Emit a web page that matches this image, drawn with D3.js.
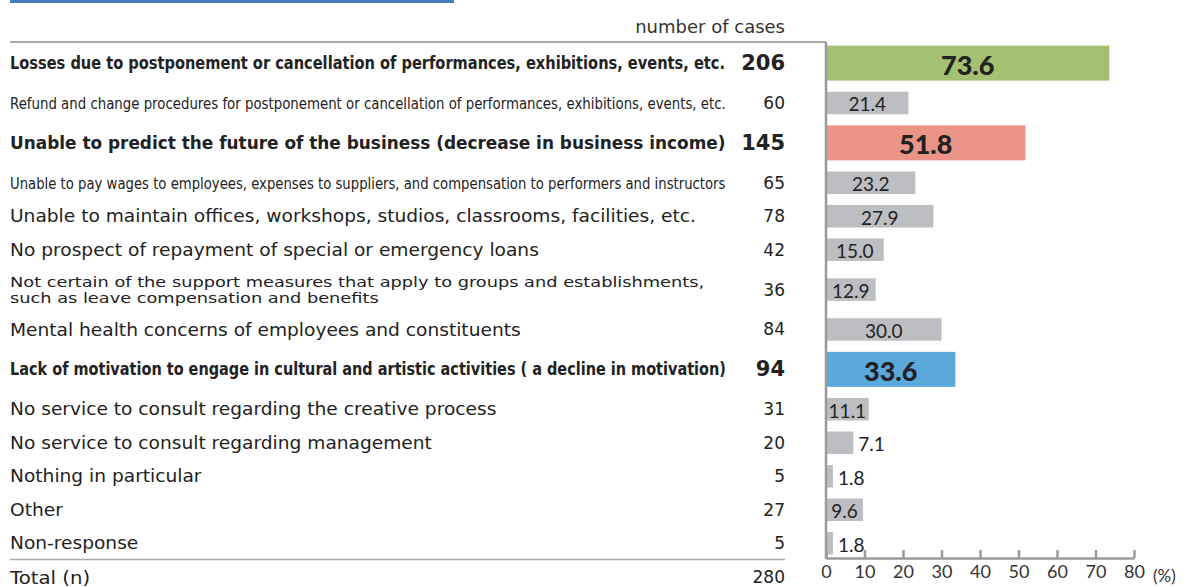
<!DOCTYPE html>
<html>
<head>
<meta charset="utf-8">
<script src="https://cdn.jsdelivr.net/npm/d3@7"></script>
<style>
  html, body { margin: 0; padding: 0; background: #fff; }
  svg { display: block; }
  text { fill: #222; }
</style>
</head>
<body>
<svg id="chart" width="1191" height="587"></svg>
<script>
const categories = [
  "Losses due to postponement or cancellation of performances, exhibitions, events, etc.",
  "Refund and change procedures for postponement or cancellation of performances, exhibitions, events, etc.",
  "Unable to predict the future of the business (decrease in business income)",
  "Unable to pay wages to employees, expenses to suppliers, and compensation to performers and instructors",
  "Unable to maintain offices, workshops, studios, classrooms, facilities, etc.",
  "No prospect of repayment of special or emergency loans",
  "Not certain of the support measures that apply to groups and establishments,\nsuch as leave compensation and benefits",
  "Mental health concerns of employees and constituents",
  "Lack of motivation to engage in cultural and artistic activities ( a decline in motivation)",
  "No service to consult regarding the creative process",
  "No service to consult regarding management",
  "Nothing in particular",
  "Other",
  "Non-response"
];
const counts = [206, 60, 145, 65, 78, 42, 36, 84, 94, 31, 20, 5, 27, 5];
const percents = [73.6, 21.4, 51.8, 23.2, 27.9, 15.0, 12.9, 30.0, 33.6, 11.1, 7.1, 1.8, 9.6, 1.8];
const highlightIdx = [0, 2, 8];
const xTicks = [0, 10, 20, 30, 40, 50, 60, 70, 80];
const totalLabel = "Total (n)";
const totalN = 280;
const countHeader = "number of cases";
const unitLabel = "(%)";

// ---- styles ----
const hlColors = {0: "#a3c170", 2: "#ea9587", 8: "#5aa8dc"};
const grayBar = "#bdbec2";
const FONT = "'DejaVu Sans', Verdana, sans-serif";
const NUMFONT = "Lato, 'DejaVu Sans', sans-serif";
const WIDE = 1.095;      // horizontal stretch to mimic Verdana-like width
const maxLabelW = 716;

const svg = d3.select("#chart");

// top decorative blue rule
svg.append("rect").attr("x", 10).attr("y", 0).attr("width", 444).attr("height", 3).attr("fill", "#4a7cc4");

// rows layout: weights
const isHl = i => highlightIdx.includes(i);
const weights = categories.map((c, i) => (isHl(i) || c.includes("\n")) ? 1.38 : 1);
const cum = [0];
weights.forEach((w, i) => cum.push(cum[i] + w));
const yPos = d3.scaleLinear().domain([0, cum[cum.length - 1]]).range([40, 560]);
const rowCenter = i => yPos(cum[i] + weights[i] / 2);

const x = d3.scaleLinear().domain([0, 80]).range([826, 1134]);

function label(x0, y0, str, size, weight) {
  const g = svg.append("g").attr("transform", `translate(${x0},${y0})`);
  const t = g.append("text").attr("x", 0).attr("y", 0).attr("dominant-baseline", "central")
    .style("font-family", FONT).style("font-size", size + "px").style("font-weight", weight).text(str);
  return {g, t};
}

// header
svg.append("text").attr("x", 785).attr("y", 26).attr("text-anchor", "end").attr("dominant-baseline", "central")
  .style("font-family", FONT).style("font-size", "18px").style("fill", "#333").text(countHeader);

// top & bottom table rules
svg.append("line").attr("x1", 10).attr("x2", 826).attr("y1", 42).attr("y2", 42)
  .attr("stroke", "#aaa").attr("stroke-width", 2);
svg.append("line").attr("x1", 10).attr("x2", 785).attr("y1", 559.5).attr("y2", 559.5)
  .attr("stroke", "#aaa").attr("stroke-width", 1.5);

// labels
categories.forEach((c, i) => {
  const cy = rowCenter(i);
  const hl = isHl(i);
  const lines = c.split("\n");
  if (lines.length > 1) {
    const gap = 16;
    lines.forEach((ln, k) => {
      const yy = cy + (k - (lines.length - 1) / 2) * gap;
      const {g} = label(10, yy, ln, 14.5, "normal");
      g.attr("transform", `translate(10,${yy}) scale(1.225,1)`);
    });
  } else {
    let {g, t} = label(10, cy, c, hl ? 18 : 17, hl ? "bold" : "normal");
    let w = t.node().getComputedTextLength();
    let k = hl ? 1 : WIDE;
    if (w * k > maxLabelW) {
      if (!hl) { t.style("font-size", "16px"); w = t.node().getComputedTextLength(); }
      k = maxLabelW / w;
    }
    g.attr("transform", `translate(10,${cy}) scale(${k},1)`);
  }
  // count
  svg.append("text").attr("x", 785).attr("y", cy).attr("text-anchor", "end")
    .attr("dominant-baseline", "central")
    .style("font-family", FONT).style("font-size", hl ? "21px" : "17px")
    .style("font-weight", hl ? "bold" : "normal").text(counts[i]);
});

// total row
{
  const {g} = label(10, 577, totalLabel, 18, "normal");
  g.attr("transform", `translate(10,577) scale(${WIDE},1)`);
}
svg.append("text").attr("x", 785).attr("y", 577).attr("text-anchor", "end").attr("dominant-baseline", "central")
  .style("font-family", FONT).style("font-size", "17px").text(totalN);

// bars
const bars = svg.append("g");
percents.forEach((p, i) => {
  const cy = rowCenter(i);
  const hl = isHl(i);
  const h = hl ? 35 : 22.5;
  const bw = x(p) - x(0);
  bars.append("rect").attr("x", x(0)).attr("y", cy - h / 2).attr("width", bw).attr("height", h)
    .attr("fill", hl ? hlColors[i] : grayBar);
  const t = bars.append("text").attr("y", cy + 1).attr("dominant-baseline", "central")
    .style("font-family", NUMFONT).style("font-size", hl ? "27px" : "19px")
    .style("font-weight", hl ? "900" : "normal").style("fill", "#222")
    .text(p.toFixed(1));
  const tw = t.node().getComputedTextLength();
  if (tw + 4 < bw) {
    t.attr("x", x(0) + bw / 2).attr("text-anchor", "middle");
  } else {
    t.attr("x", x(p) + 5).attr("text-anchor", "start");
  }
});

// axes
const axis = d3.axisBottom(x).tickValues(xTicks).tickSizeInner(-8).tickSizeOuter(0).tickPadding(7)
  .tickFormat(d3.format("d"));
const gx = svg.append("g").attr("transform", "translate(0,558)").call(axis);
gx.select(".domain").attr("stroke", "#9a9a9a").attr("stroke-width", 2.5);
gx.selectAll(".tick line").attr("stroke", "#9a9a9a").attr("stroke-width", 2.5);
gx.selectAll(".tick text").style("font-family", NUMFONT).style("font-size", "18px").style("fill", "#333");
svg.append("line").attr("x1", x(0)).attr("x2", x(0)).attr("y1", 42).attr("y2", 559)
  .attr("stroke", "#9a9a9a").attr("stroke-width", 2.5);
svg.append("text").attr("x", 1153).attr("y", 575).attr("dominant-baseline", "central")
  .style("font-family", NUMFONT).style("font-size", "17px").style("fill", "#333").text(unitLabel);
</script>
</body>
</html>
